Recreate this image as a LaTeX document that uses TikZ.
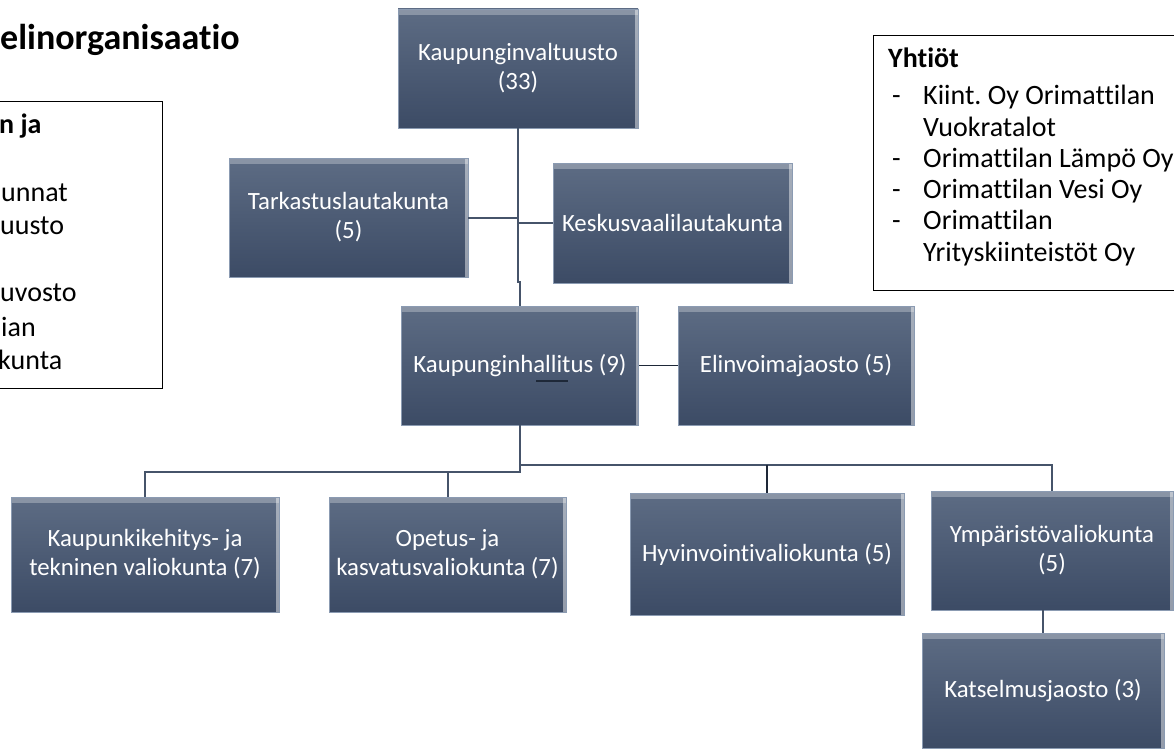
\documentclass[tikz,border=0pt]{standalone}
\usepackage{fontspec}
\setmainfont{Carlito}[Ligatures={NoCommon}]
\frenchspacing
\definecolor{boxtop}{HTML}{5D6C84}
\definecolor{boxbot}{HTML}{3C4B65}
\definecolor{boxedge}{HTML}{8B9BB2}
\definecolor{connc}{HTML}{46546A}
\definecolor{darkc}{HTML}{1E2838}
\tikzset{
  orgbox/.style={rectangle, top color=boxtop, bottom color=boxbot, draw=boxedge,
    line width=0.8pt, text=white, font=\fontsize{24.8pt}{29pt}\selectfont,
    align=center, inner sep=0pt,
    path picture={
      \fill[white,opacity=.28] (path picture bounding box.north west) rectangle ([yshift=-6pt]path picture bounding box.north east);
      \fill[white,opacity=.45] ([xshift=-3pt]path picture bounding box.north east) rectangle (path picture bounding box.south east);
    }},
  connline/.style={draw=connc, line width=2pt},
  frame/.style={draw=black, line width=1.2pt, rectangle, inner sep=0pt, anchor=north west},
  listtxt/.style={anchor=base west, inner sep=0pt, text=black, font=\fontsize{28pt}{31pt}\selectfont}
}
\begin{document}
\begin{tikzpicture}[x=1pt,y=-1pt]
\useasboundingbox (0,0) rectangle (1174,749);
\fill[white] (0,0) rectangle (1174,749);

% title
\node[anchor=base west, inner sep=0pt, font=\fontsize{36pt}{40pt}\selectfont\bfseries] (title) at (0,50) {elinorganisaatio};

% left frame (cut off)
\node[frame, minimum width=172pt, minimum height=287pt] (lbox) at (-10,101) {};
\node[listtxt, font=\fontsize{28pt}{31pt}\selectfont\bfseries] (l1) at (-1,133) {n ja};
\node[listtxt] (l2) at (1,201.5) {unnat};
\node[listtxt] (l3) at (0,234.5) {uusto};
\node[listtxt] (l4) at (0,301.5) {uvosto};
\node[listtxt] (l5) at (1,336.5) {ian};
\node[listtxt] (l6) at (-2,369.5) {kunta};

% right frame
\node[frame, minimum width=320pt, minimum height=255pt] (ybox) at (873,35) {};
\node[listtxt, font=\fontsize{28pt}{31pt}\selectfont\bfseries] (y0) at (888,68) {Yhtiöt};
\node[listtxt] (d1) at (892,105) {-};
\node[listtxt] (y1) at (923,105) {Kiint. Oy Orimattilan};
\node[listtxt] (y2) at (923,136) {Vuokratalot};
\node[listtxt] (d2) at (892,167) {-};
\node[listtxt] (y3) at (923,167) {Orimattilan Lämpö Oy};
\node[listtxt] (d3) at (892,198) {-};
\node[listtxt] (y4) at (923,198) {Orimattilan Vesi Oy};
\node[listtxt] (d4) at (892,229) {-};
\node[listtxt] (y5) at (923,229) {Orimattilan};
\node[listtxt] (y6) at (923,261) {Yrityskiinteistöt Oy};

% boxes
\node[orgbox, minimum width=240pt, minimum height=119pt] (kv) at (518,68.5) {Kaupunginvaltuusto\\(33)};
\node[orgbox, minimum width=239pt, minimum height=119pt] (tl) at (348.5,217.5) {Tarkastuslautakunta\\(5)};
\node[orgbox, minimum width=239pt, minimum height=120pt] (kvl) at (672.5,223) {Keskusvaalilautakunta};
\node[orgbox, minimum width=237pt, minimum height=119pt] (kh) at (520,365.5) {Kaupunginhallitus (9)};
\node[orgbox, minimum width=236pt, minimum height=119pt] (ej) at (796,365.5) {Elinvoimajaosto (5)};
\node[orgbox, minimum width=268pt, minimum height=115pt] (kkt) at (145,554.5) {Kaupunkikehitys- ja\\tekninen valiokunta (7)};
\node[orgbox, minimum width=237pt, minimum height=115pt] (okv) at (447.5,554.5) {Opetus- ja\\kasvatusvaliokunta (7)};
\node[orgbox, minimum width=274pt, minimum height=122pt] (hv) at (767,554) {Hyvinvointivaliokunta (5)};
\node[orgbox, minimum width=242pt, minimum height=119pt] (yv) at (1052,550.5) {Ympäristövaliokunta\\(5)};
\node[orgbox, minimum width=242pt, minimum height=115pt] (kj) at (1043,690.5) {Katselmusjaosto (3)};

% stray mark under "hallitus"
\draw[darkc, line width=2pt] (536,381) -- (568,381);

% connectors
\coordinate (j1) at (518,282);
\coordinate (bl) at (520,472);
\coordinate (br) at (520,465);
\draw[connline] (kv.south) -- (j1) -| (kh.north);
\draw[connline] (tl.east) -- (tl.east -| kv.south);
\draw[connline] (kvl.west) -- (kvl.west -| kv.south);
\draw[connline, draw=darkc, line width=1.2pt] (kh.east) -- (ej.west);
\draw[connline] (kh.south) -- (bl) -| (kkt.north);
\draw[connline] (bl -| okv.north) -- (okv.north);
\draw[connline] (br) -| (yv.north);
\draw[connline, draw=darkc] (br -| hv.north) -- (hv.north);
\draw[connline] (yv.south -| kj.north) -- (kj.north);
\end{tikzpicture}
\end{document}
